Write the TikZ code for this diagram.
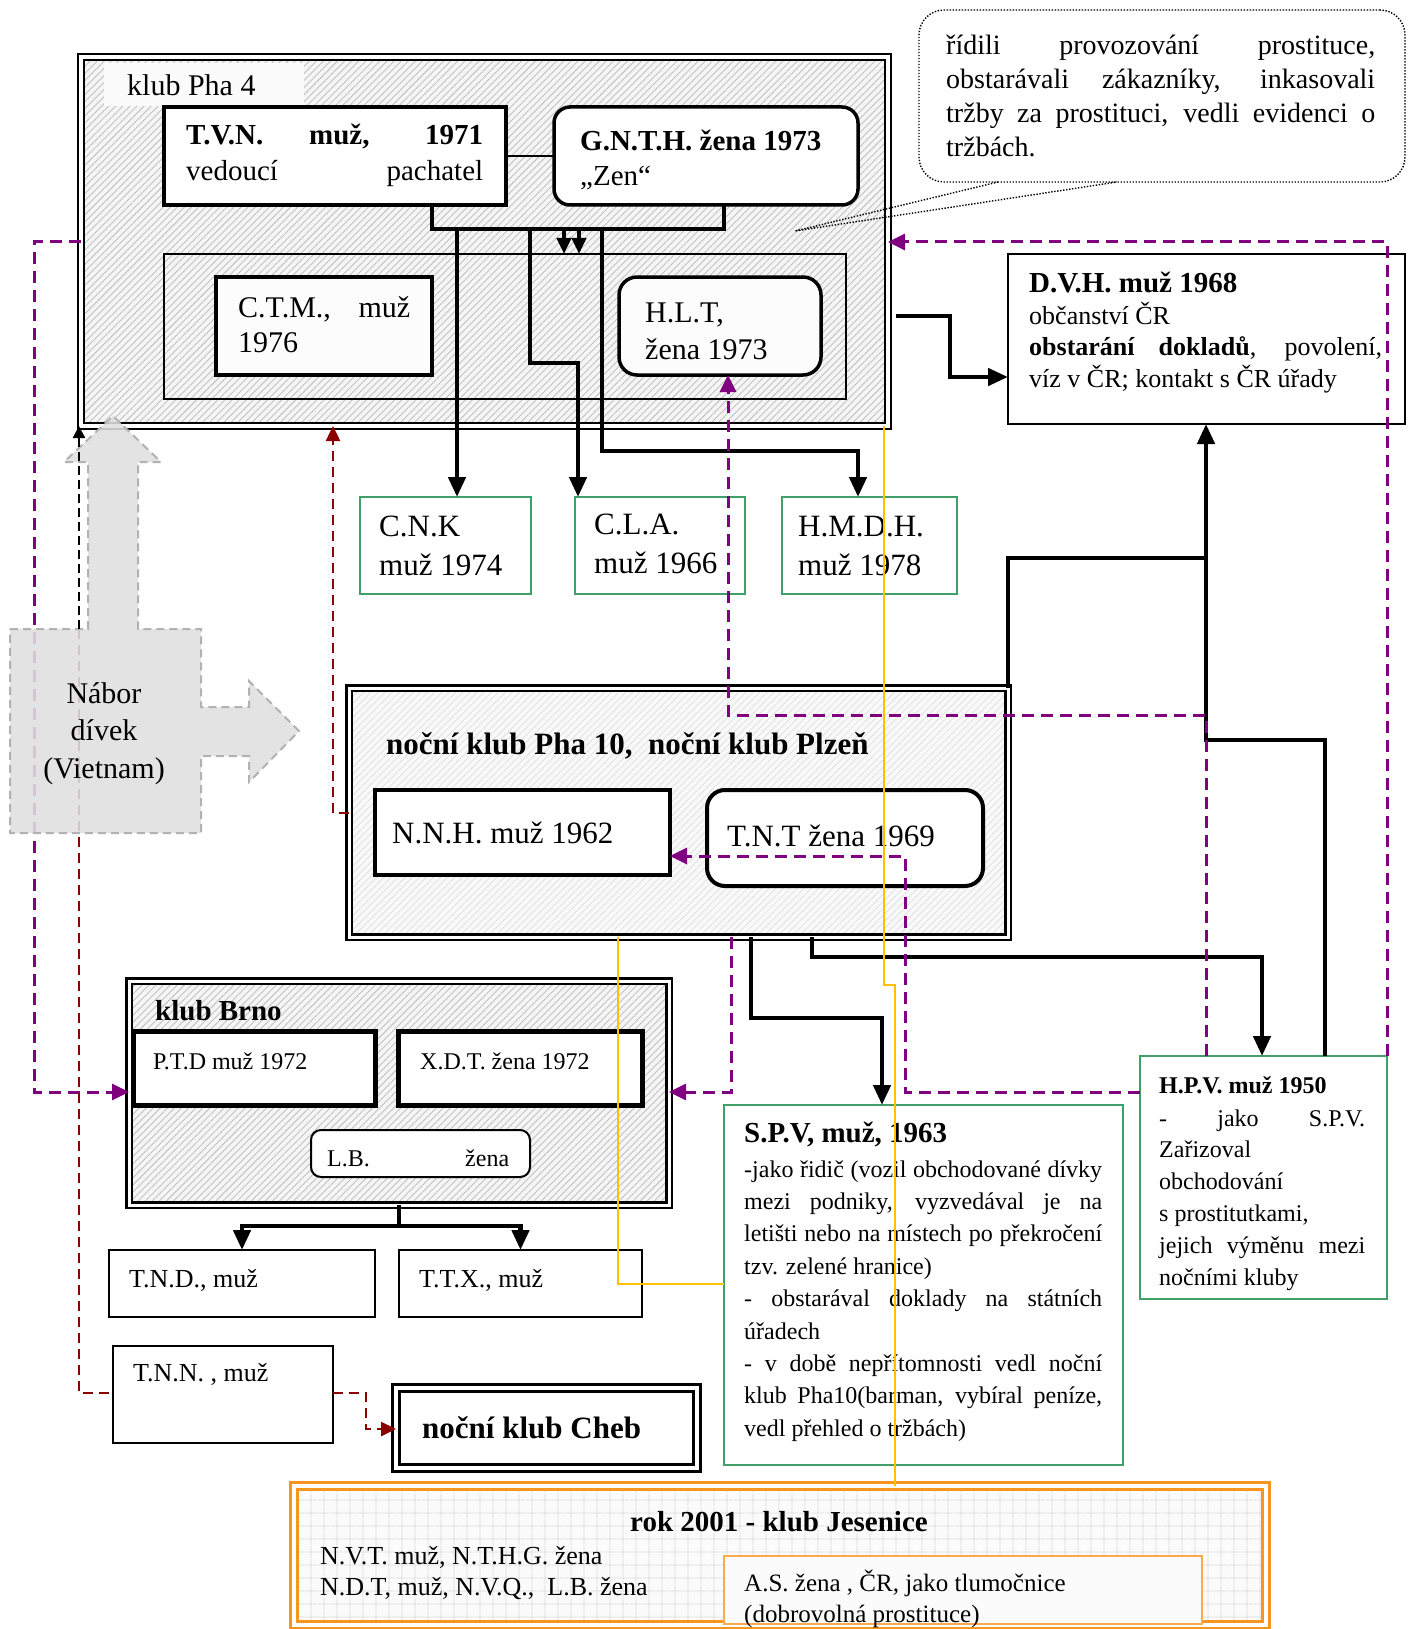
\documentclass[tikz,border=0pt]{standalone}
\usepackage{fontspec}
\setmainfont{Liberation Serif}
\usetikzlibrary{arrows.meta,patterns.meta}
\definecolor{cPur}{RGB}{128,0,128}
\definecolor{cRed}{RGB}{139,0,0}
\definecolor{cGrn}{RGB}{64,160,104}
\definecolor{cOrg}{RGB}{247,150,30}
\definecolor{cYel}{RGB}{255,192,0}
\definecolor{cNab}{RGB}{224,224,224}
\newcommand{\fsz}[2]{\fontsize{#1}{#2}\selectfont}
\newcommand{\Lns}[1]{\begin{tabular}[t]{@{}l@{}}#1\end{tabular}}
\newcommand{\Cns}[1]{\begin{tabular}[t]{@{}c@{}}#1\end{tabular}}
\newcommand{\jline}[2]{\makebox[#1][s]{#2}}
\begin{document}
\begin{tikzpicture}[x=1pt,y=-1pt,line join=miter,
  bx/.style={draw, inner sep=0pt, outer sep=0pt, anchor=north west},
  tx/.style={anchor=base west, inner sep=0pt},
  hatch/.style={preaction={fill=gray!8}, pattern={Lines[angle=45,distance=5pt,line width=0.9pt]}, pattern color=gray!48},
  hatchl/.style={preaction={fill=gray!5}, pattern={Lines[angle=45,distance=5pt,line width=0.7pt]}, pattern color=gray!25},
  grid/.style={preaction={fill=gray!3}, pattern={Hatch[angle=0,distance=13pt,line width=0.7pt]}, pattern color=gray!28},
  grnbox/.style={bx, draw=cGrn, fill=white, line width=1.6pt},
  blk/.style={line width=4.5pt},
  blkarr/.style={blk, -{Triangle[length=20pt,width=17pt]}},
  purl/.style={draw=cPur, line width=3pt, dash pattern=on 12pt off 7pt},
  purarr/.style={purl, -{Triangle[length=17pt,width=16pt]}},
  redl/.style={draw=cRed, line width=2.5pt, dash pattern=on 10pt off 6pt},
  redarr/.style={redl, -{Triangle[length=15pt,width=14pt]}},
  ylw/.style={draw=cYel, line width=1.3pt}]
\useasboundingbox (0,0) rectangle (1412,1629);
\fill[white] (0,0) rectangle (1412,1629);

% ---------- klub Pha 4
\node[bx, hatch, line width=2.6pt, double=white, double distance=3.5pt, minimum width=807pt, minimum height=369pt] (pha4) at (81,57) {};
\fill[gray!3] (104,63) rectangle (304,106);
\node[tx, font=\fsz{30}{36}] (lpha4) at (127,96) {klub Pha 4};
\node[bx, line width=1.5pt, minimum width=682pt, minimum height=145pt] (pha4in) at (164,254) {};
\node[bx, fill=white, line width=3.5pt, minimum width=342pt, minimum height=98pt] (tvn) at (164,107) {};
\node[tx, font=\fsz{29}{36}] (ttvn) at (186,145) {\Lns{\jline{297pt}{\bfseries T.V.N. muž, 1971}\\\jline{297pt}{vedoucí pachatel}}};
\node[bx, fill=white, rounded corners=16pt, line width=3.5pt, minimum width=304pt, minimum height=98pt] (gnth) at (554,107) {};
\node[tx, font=\fsz{29}{35}] (tgnth) at (580,151) {\Lns{\textbf{G.N.T.H. žena 1973}\\„Zen“}};
\node[bx, fill=gray!2, line width=3.5pt, minimum width=216pt, minimum height=98pt] (ctm) at (216,277) {};
\node[tx, font=\fsz{30}{35}] (tctm) at (238,317) {\Lns{\jline{172pt}{C.T.M., muž}\\1976}};
\node[bx, fill=gray!2, rounded corners=18pt, line width=3.5pt, minimum width=202pt, minimum height=98pt] (hlt) at (619,277) {};
\node[tx, font=\fsz{30}{37}] (thlt) at (645,322) {\Lns{H.L.T,\\žena 1973}};

% ---------- callout
\node[bx, fill=white, rounded corners=25pt, line width=1.4pt, dash pattern=on 1.4pt off 1.6pt, minimum width=486pt, minimum height=172pt] (call) at (919,10) {};
\node[tx, font=\fsz{28}{33.7}] (tcall) at (946,55) {\Lns{\jline{429pt}{řídili provozování prostituce,}\\\jline{429pt}{obstarávali zákazníky, inkasovali}\\\jline{429pt}{tržby za prostituci, vedli evidenci o}\\tržbách.}};
\coordinate (tail) at (795,231);
\draw[line width=1.4pt, dash pattern=on 1.4pt off 1.6pt] ([xshift=79pt]call.south west) -- (tail) -- ([xshift=198pt]call.south west);

% ---------- D.V.H.
\node[bx, fill=white, line width=2pt, minimum width=397pt, minimum height=170pt] (dvh) at (1008,254) {};
\node[tx, font=\fsz{29}{34}\bfseries] (tdvh1) at (1029,292) {D.V.H. muž 1968};
\node[tx, font=\fsz{26}{31.5}] (tdvh2) at (1029,324) {\Lns{občanství ČR\\\jline{353pt}{\textbf{obstarání dokladů}, povolení,}\\víz v ČR; kontakt s ČR úřady}};

% ---------- C.N.K, C.L.A., H.M.D.H.
\node[grnbox, minimum width=171pt, minimum height=97pt] (cnk) at (360,497) {};
\node[tx, font=\fsz{31}{39}] (tcnk) at (379,536) {\Lns{C.N.K\\muž 1974}};
\node[grnbox, minimum width=170pt, minimum height=97pt] (cla) at (575,497) {};
\node[tx, font=\fsz{31}{39}] (tcla) at (594,534) {\Lns{C.L.A.\\muž 1966}};
\node[grnbox, minimum width=175pt, minimum height=97pt] (hmdh) at (782,497) {};
\node[tx, font=\fsz{31}{39}] (thmdh) at (798,536) {\Lns{H.M.D.H.\\muž 1978}};

% ---------- Pha 10
\node[bx, hatchl, line width=2.2pt, double=white, double distance=3pt, minimum width=659pt, minimum height=249pt] (pha10) at (349,688) {};
\node[tx, font=\fsz{31}{36}\bfseries] (tpha10) at (386,754) {noční klub Pha 10,\ \ noční klub Plzeň};
\node[bx, fill=white, line width=4pt, minimum width=295pt, minimum height=85pt] (nnh) at (375,790) {};
\node[tx, font=\fsz{31}{36}] (tnnh) at (392,843) {N.N.H. muž 1962};
\node[bx, fill=white, rounded corners=18pt, line width=4pt, minimum width=276pt, minimum height=96pt] (tnt) at (707,790) {};
\node[tx, font=\fsz{31}{36}] (ttnt) at (727,846) {T.N.T žena 1969};

% ---------- Brno
\node[bx, hatch, line width=2.2pt, double=white, double distance=3pt, minimum width=540pt, minimum height=224pt] (brno) at (129,981) {};
\node[tx, font=\fsz{29}{34}\bfseries] (tbrno) at (155,1020) {klub Brno};
\node[bx, fill=white, line width=5pt, minimum width=242pt, minimum height=74pt] (ptd) at (133,1031) {};
\node[tx, font=\fsz{24}{30}] (tptd) at (153,1069) {P.T.D muž 1972};
\node[bx, fill=white, line width=5pt, minimum width=244pt, minimum height=74pt] (xdt) at (398,1031) {};
\node[tx, font=\fsz{24}{30}] (txdt) at (420,1069) {X.D.T. žena 1972};
\node[bx, fill=white, rounded corners=10pt, line width=2pt, minimum width=219pt, minimum height=47pt] (lb) at (311,1130) {};
\node[tx, font=\fsz{24}{30}] (tlb) at (327,1166) {\jline{182pt}{L.B.\hfill žena}};
\node[bx, fill=white, line width=1.6pt, minimum width=266pt, minimum height=67pt] (tnd) at (109,1250) {};
\node[tx, font=\fsz{26}{30}] (ttnd) at (129,1287) {T.N.D., muž};
\node[bx, fill=white, line width=1.6pt, minimum width=243pt, minimum height=67pt] (ttx) at (399,1250) {};
\node[tx, font=\fsz{26}{30}] (tttx) at (419,1287) {T.T.X., muž};
\node[bx, fill=white, line width=2pt, minimum width=220pt, minimum height=97pt] (tnn) at (113,1346) {};
\node[tx, font=\fsz{26}{30}] (ttnn) at (133,1381) {T.N.N. , muž};
\node[bx, fill=white, line width=3pt, double=white, double distance=4pt, minimum width=301pt, minimum height=80pt] (cheb) at (396,1388) {};
\node[tx, font=\fsz{31}{36}\bfseries] (tcheb) at (422,1438) {noční klub Cheb};

% ---------- S.P.V.
\node[grnbox, line width=2pt, minimum width=399pt, minimum height=360pt] (spv) at (724,1105) {};
\node[tx, font=\fsz{29}{34}\bfseries] (tspv1) at (744,1142) {S.P.V, muž, 1963};
\node[tx, font=\fsz{24}{32.4}] (tspv2) at (744,1177) {\Lns{\jline{358pt}{-jako řidič (vozil obchodované dívky}\\\jline{358pt}{mezi podniky, vyzvedával je na}\\\jline{358pt}{letišti nebo na místech po překročení}\\tzv. zelené hranice)\\\jline{358pt}{- obstarával doklady na státních}\\úřadech\\\jline{358pt}{- v době nepřítomnosti vedl noční}\\\jline{358pt}{klub Pha10(barman, vybíral peníze,}\\vedl přehled o tržbách)}};

% ---------- H.P.V.
\node[grnbox, line width=2.5pt, minimum width=247pt, minimum height=243pt] (hpv) at (1140,1056) {};
\node[tx, font=\fsz{24}{30}\bfseries] (thpv1) at (1159,1093) {H.P.V. muž 1950};
\node[tx, font=\fsz{24}{31.8}] (thpv2) at (1159,1126) {\Lns{\jline{206pt}{-\hfill jako\hfill S.P.V.}\\Zařizoval\\obchodování\\s prostitutkami,\\\jline{206pt}{jejich výměnu mezi}\\nočními kluby}};

% ---------- Jesenice
\node[bx, grid, draw=cOrg, line width=3pt, double=white, double distance=4pt, minimum width=972pt, minimum height=139pt] (jes) at (294,1486) {};
\node[anchor=base, inner sep=0pt, font=\fsz{29}{34}\bfseries] (tjes) at (779,1531) {rok 2001 - klub Jesenice};
\node[tx, font=\fsz{26}{31}] (tjes2) at (320,1564) {\Lns{N.V.T. muž, N.T.H.G. žena\\N.D.T, muž, N.V.Q.,\ \ L.B. žena}};
\node[bx, fill=gray!3, draw=cOrg!80, line width=1.3pt, minimum width=478pt, minimum height=68pt] (asb) at (724,1556) {};
\node[tx, font=\fsz{25}{31}] (tasb) at (744,1591) {\Lns{A.S. žena , ČR, jako tlumočnice\\(dobrovolná prostituce)}};

% ---------- black connectors
\draw[line width=2.5pt] (tvn.east) -- (gnth.west);
\draw[blk] ([xshift=268pt]tvn.south west) |- (724,229) -- ([xshift=170pt]gnth.south west);
\coordinate (a1) at (564,229);
\coordinate (a2) at (579,229);
\draw[blk, -{Triangle[length=16pt,width=14pt]}] (a1) -- ([xshift=400pt]pha4in.north west);
\draw[blk, -{Triangle[length=16pt,width=14pt]}] (a2) -- ([xshift=415pt]pha4in.north west);
\coordinate (c1) at (457,229);
\draw[blkarr] (c1) -- ([xshift=97pt]cnk.north west);
\coordinate (c2) at (530,229);
\draw[blkarr] (c2) |- (578,363) -- ([xshift=3pt]cla.north west);
\coordinate (c3) at (602,229);
\draw[blkarr] (c3) |- (858,451) -- ([xshift=76pt]hmdh.north west);
\draw[blkarr] ([shift={(8pt,-259pt)}]pha4.north east) -| (950,377) -- ([yshift=-123pt]dvh.north west);
\coordinate (dj) at (1206,558);
\draw[blk] (pha10.north east) |- (dj);
\draw[blkarr] ([xshift=185pt]hpv.north west) |- (1206,740) -- ([xshift=198pt]dvh.south west);
\draw[blkarr] ([xshift=402pt]pha10.south west) |- (882,1018) -- ([xshift=158pt]spv.north west);
\draw[blkarr] ([xshift=463pt]pha10.south west) |- (1262,957) -- ([xshift=122pt]hpv.north west);
\coordinate (bj) at (399,1226);
\draw[blk] (brno.south) -- (bj);
\draw[blkarr] (bj) -| (tnd.north);
\draw[blkarr] (bj) -| (ttx.north);

% ---------- purple dashed connectors
\draw[purarr] ([yshift=-185pt]pha4.north west) -| (34,1092) -- ([yshift=-111pt]brno.north west);
\draw[purarr] (hpv.north east) |- ([yshift=-185pt]pha4.north east);
\draw[purarr] ([yshift=-36pt]hpv.north west) -| (905,856) -- ([yshift=-66pt]nnh.north east);
\draw[purarr] ([xshift=382pt]pha10.south west) |- ([yshift=-111pt]brno.north east);
\draw[purarr] ([xshift=66pt]hpv.north west) |- (728,715) -- ([xshift=109pt]hlt.south west);

% ---------- dark red dashed connectors
\draw[redarr] ([yshift=-125pt]pha10.north west) -| ([xshift=252pt]pha4.south west);
\coordinate (nabb) at (79,629);
\draw[redl] (nabb) |- ([yshift=-47pt]tnn.north west);
\draw[redarr] ([yshift=-47pt]tnn.north east) -| (366,1429) -- ([yshift=-41pt]cheb.north west);

% ---------- Nabor divek
\draw[draw=gray!60, line width=2pt, dash pattern=on 8pt off 5pt, fill=cNab, fill opacity=0.88]
  (10,629) -- (88,629) -- (88,462) -- (64,462) -- (113,416) -- (161,462) -- (138,462) -- (138,629)
  -- (201,629) -- (201,707) -- (249,707) -- (249,681) -- (299,731) -- (249,782) -- (249,756)
  -- (201,756) -- (201,833) -- (10,833) -- cycle;
\node[anchor=base, inner sep=0pt, font=\fsz{30}{37.5}] (tnab) at (104,703) {\Cns{Nábor\\dívek\\(Vietnam)}};
\coordinate (nabt) at (79,629);
\draw[line width=2.4pt, dash pattern=on 9pt off 5pt, -{Triangle[length=12pt,width=12pt]}] (nabt) -- ([xshift=-2pt]pha4.south west);

% ---------- yellow lines
\draw[ylw] ([xshift=-4pt]pha4.south east) |- (895,985) -- ([xshift=601pt]jes.north west);
\draw[ylw] ([xshift=269pt]pha10.south west) |- ([yshift=-179pt]spv.north west);
\end{tikzpicture}
\end{document}
